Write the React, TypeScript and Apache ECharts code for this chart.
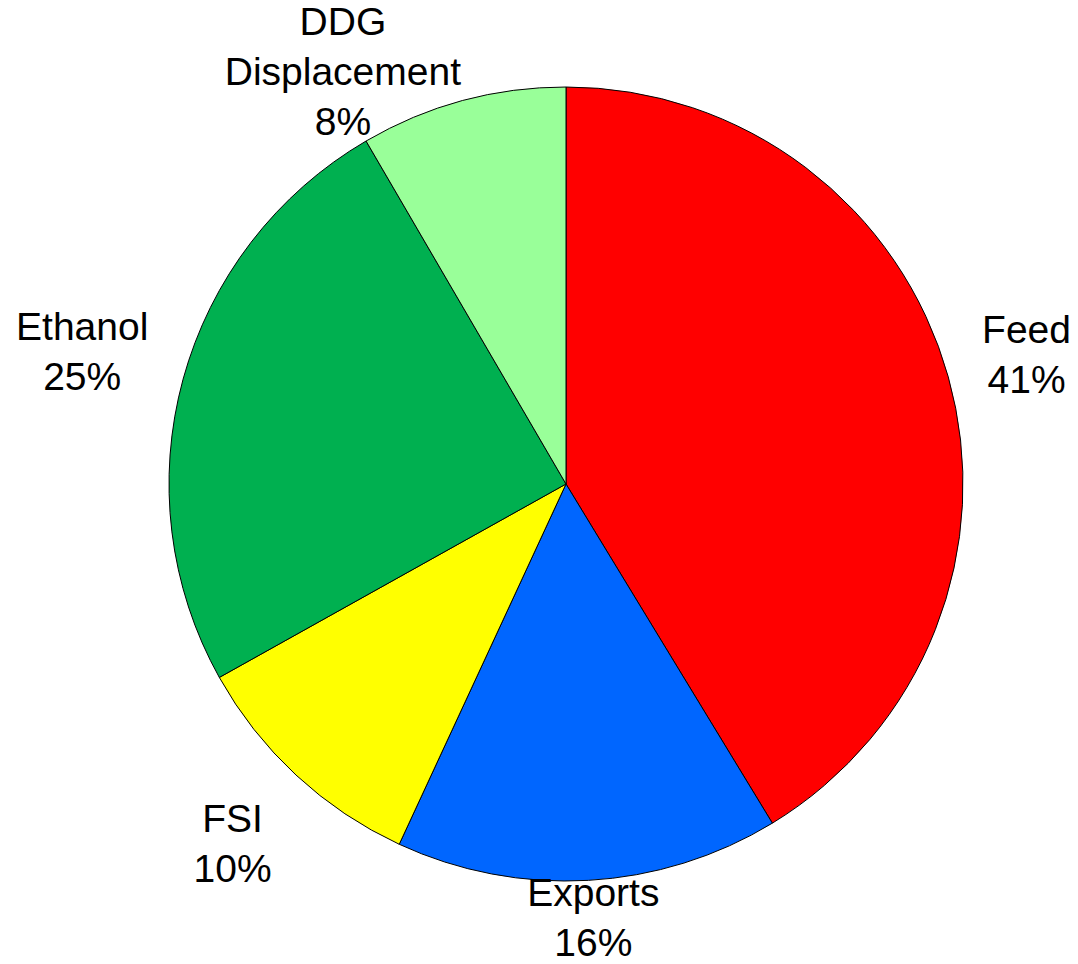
import React, { useEffect, useRef } from 'react';
import * as echarts from 'echarts';

// ---- data ----
const categories = ['Feed', 'Exports', 'FSI', 'Ethanol', 'DDG\nDisplacement'];
const shares = [41.3, 15.6, 10.0, 24.7, 8.4];

// ---- styles ----
const sliceColors = ['#FF0000', '#0066FF', '#FFFF00', '#00B050', '#99FF99'];
const W = 1078;
const H = 964;
const CX = 566;
const CY = 484;
const R = 397;
const FONT = '"Liberation Sans", Arial, Helvetica, sans-serif';
const FONT_SIZE = 39;
const LINE_H = 50;
const GAP = 36; // distance between pie edge and label box
const EDGE = 7; // glyph margin to the chart edge
const CAP_HALF = 0.37 * FONT_SIZE;
const CLEAR = 2;

const total = shares.reduce((a, b) => a + b, 0);
const labelText = (i: number) =>
  `${categories[i]}\n${Math.round((shares[i] / total) * 100)}%`;

function computeLabelPositions() {
  const canvas = document.createElement('canvas');
  const ctx = canvas.getContext('2d')!;
  ctx.font = `${FONT_SIZE}px ${FONT}`;
  let acc = 0;
  return shares.map((v, i) => {
    const mid = ((acc + v / 2) / total) * 2 * Math.PI;
    acc += v;
    const ux = Math.sin(mid);
    const uy = -Math.cos(mid);
    const lines = labelText(i).split('\n');
    const widths = lines.map((l) => ctx.measureText(l).width);
    const w = Math.max(...widths);
    const h = lines.length * LINE_H;
    const tx = Math.abs(ux) > 1e-6 ? w / 2 / Math.abs(ux) : Infinity;
    const ty = Math.abs(uy) > 1e-6 ? h / 2 / Math.abs(uy) : Infinity;
    const d = R + GAP + Math.min(tx, ty);
    let x = CX + ux * d;
    let y = CY + uy * d;
    // keep glyphs inside the chart area vertically
    const top = y - h / 2 + LINE_H / 2 - CAP_HALF;
    if (top < EDGE) y += EDGE - top;
    const bottom = y + h / 2 - LINE_H / 2 + CAP_HALF;
    if (bottom > H - EDGE) y -= bottom - (H - EDGE);
    // keep inside horizontally
    if (x - w / 2 < EDGE) x = EDGE + w / 2;
    if (x + w / 2 > W - EDGE) x = W - EDGE - w / 2;
    // push horizontally out of the pie if a line overlaps it
    const dir = ux < 0 ? -1 : 1;
    lines.forEach((_, k) => {
      const lc = y - h / 2 + LINE_H * (k + 0.5);
      const y0 = lc - CAP_HALF;
      const y1 = lc + CAP_HALF;
      const hw = widths[k] / 2;
      const ny = Math.max(y0, Math.min(CY, y1));
      const dy = ny - CY;
      const need = (R + CLEAR) * (R + CLEAR) - dy * dy;
      if (need <= 0) return;
      const needDx = Math.sqrt(need);
      if (dir < 0) {
        const edge = x + hw;
        if (edge > CX) return;
        if (CX - edge < needDx) x = CX - needDx - hw;
      } else {
        const edge = x - hw;
        if (edge < CX) return;
        if (edge - CX < needDx) x = CX + needDx + hw;
      }
    });
    return { x, y };
  });
}

export default function App() {
  const ref = useRef<HTMLDivElement>(null);

  useEffect(() => {
    if (!ref.current) return;
    const chart = echarts.init(ref.current, undefined, { renderer: 'svg' });
    const positions = computeLabelPositions();

    chart.setOption({
      animation: false,
      backgroundColor: '#ffffff',
      series: [
        {
          type: 'pie',
          center: [CX, CY],
          radius: R,
          startAngle: 90,
          clockwise: true,
          avoidLabelOverlap: false,
          emphasis: { disabled: true },
          data: categories.map((name, i) => ({
            name,
            value: shares[i],
            itemStyle: { color: sliceColors[i] },
          })),
          itemStyle: { borderColor: '#000000', borderWidth: 1 },
          label: {
            show: true,
            position: 'outside',
            formatter: (p: any) => labelText(p.dataIndex),
            fontFamily: FONT,
            fontSize: FONT_SIZE,
            lineHeight: LINE_H,
            color: '#000000',
          },
          labelLine: { show: false },
          labelLayout: (params: any) => {
            const pos = positions[params.dataIndex];
            return {
              x: pos.x,
              y: pos.y,
              align: 'center',
              verticalAlign: 'middle',
            };
          },
        },
      ],
    });

    return () => chart.dispose();
  }, []);

  return (
    <div
      ref={ref}
      style={{ position: 'absolute', left: 0, top: 0, width: W, height: H, background: '#fff' }}
    />
  );
}
